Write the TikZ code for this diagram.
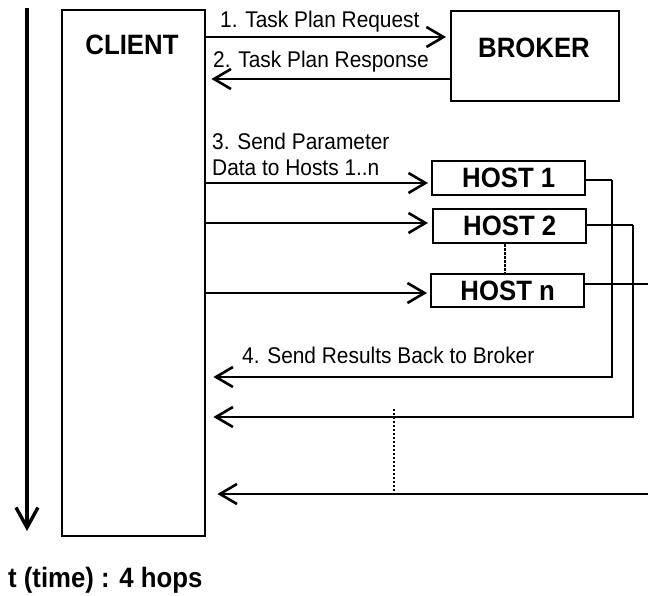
\documentclass[tikz,border=0pt]{standalone}
\usepackage{fontspec}
\setmainfont[FakeStretch=0.92]{Liberation Sans}
\usetikzlibrary{arrows.meta}
\tikzset{
  box/.style={draw, line width=2.4pt, fill=white, inner sep=0pt},
  bigtxt/.style={font=\bfseries\fontsize{28}{32}\selectfont, inner sep=0pt},
  lbl/.style={font=\fontsize{22.7}{26}\selectfont, inner sep=0pt, anchor=base west},
  msg/.style={line width=2.6pt, -{Straight Barb[length=17pt,width=20pt,line width=2.6pt]}},
  wire/.style={line width=2.6pt},
  dotline/.style={line width=2.6pt, dash pattern=on 2.2pt off 1.8pt},
  timeax/.style={line width=3.4pt, -{Straight Barb[length=20pt,width=22pt,line width=3.4pt]}}
}
\begin{document}
\begin{tikzpicture}[x=1pt,y=-1pt]
\useasboundingbox (0,0) rectangle (648,596);
% time axis
\coordinate (t0) at (27,8);
\coordinate (t1) at (27,531);
\draw[timeax] (t0) -- (t1);
\node[bigtxt, anchor=base west] (tlabel) at (8,587) {t (time) : 4 hops};

% boxes
\node[box, anchor=north west, minimum width=143pt, minimum height=526pt] (client) at (61,9) {};
\node[bigtxt] (clientlbl) at (132,45) {CLIENT};
\node[box, anchor=north west, minimum width=168pt, minimum height=90pt] (broker) at (450,10) {};
\node[bigtxt] (brokerlbl) at (534,48) {BROKER};
\node[box, bigtxt, anchor=north west, minimum width=153pt, minimum height=34pt] (h1) at (431,160) {HOST 1};
\node[box, bigtxt, anchor=north west, minimum width=153pt, minimum height=34pt] (h2) at (432,208) {HOST 2};
\node[box, bigtxt, anchor=north west, minimum width=153pt, minimum height=33pt] (hn) at (430,273) {HOST n};

% y levels
\coordinate (y1) at (0,37);
\coordinate (y2) at (0,79);
\coordinate (y3) at (0,183);
\coordinate (y4) at (0,223);
\coordinate (y5) at (0,293);

% 1 and 2
\draw[msg, shorten >=4pt] (client.east |- y1) -- (broker.west |- y1);
\node[lbl] (l1) at (220,28) {1. Task Plan Request};
\draw[msg, shorten >=5pt] (broker.west |- y2) -- (client.east |- y2);
\node[lbl] (l2) at (213,68) {2. Task Plan Response};

% 3
\node[lbl] (l3a) at (212,150) {3. Send Parameter};
\node[lbl] (l3b) at (212,176) {Data to Hosts 1..n};
\draw[msg, shorten >=3pt] (client.east |- y3) -- (h1.west |- y3);
\draw[msg, shorten >=4pt] (client.east |- y4) -- (h2.west |- y4);
\draw[msg, shorten >=3pt] (client.east |- y5) -- (hn.west |- y5);
\draw[dotline] (h2.south -| 505,0) -- (hn.north -| 505,0);

% 4 returns
\coordinate (r1a) at (612,180);
\coordinate (r1b) at (612,377);
\coordinate (r2a) at (633,225);
\coordinate (r2b) at (633,417);
\coordinate (rna) at (649,284);
\coordinate (rnb) at (649,494);
\draw[wire] (h1.east |- r1a) -- (r1a);
\draw[msg, shorten >=7pt] (r1a) -- (r1b) -- (client.east |- r1b);
\node[lbl] (l4) at (242,363) {4. Send Results Back to Broker};
\draw[wire] (h2.east |- r2a) -- (r2a);
\draw[msg, shorten >=7pt] (r2a) -- (r2b) -- (client.east |- r2b);
\draw[wire] (hn.east |- rna) -- (rna);
\draw[msg, shorten >=11pt] (rnb) -- (client.east |- rnb);
\coordinate (d1) at (394,409);
\coordinate (d2) at (394,492);
\draw[dotline] (d1) -- (d2);
\end{tikzpicture}
\end{document}
